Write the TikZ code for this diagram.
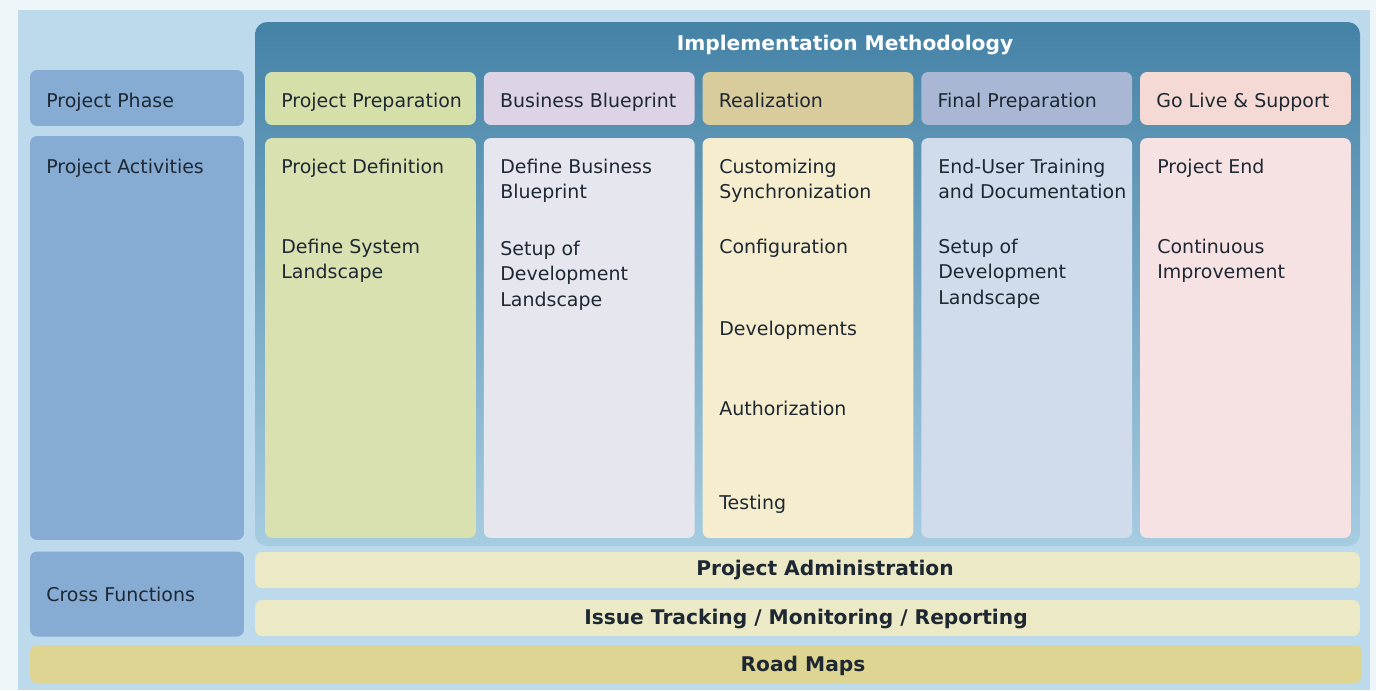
\documentclass[tikz,border=0pt]{standalone}
\usepackage{fontspec}
\setmainfont{DejaVu Sans}
\usetikzlibrary{positioning}

\definecolor{pagebg}{HTML}{EEF6FA}
\definecolor{outerbg}{HTML}{BCDAEB}
\definecolor{frametop}{HTML}{4482A6}
\definecolor{framebot}{HTML}{A6CCE1}
\definecolor{sidebox}{HTML}{86ACD4}
\definecolor{inkdark}{HTML}{1E2833}
\definecolor{phA}{HTML}{D5DFAA}
\definecolor{phB}{HTML}{DCD3E6}
\definecolor{phC}{HTML}{D8CB9C}
\definecolor{phD}{HTML}{A9B7D5}
\definecolor{phE}{HTML}{F5D9D5}
\definecolor{acA}{HTML}{D8E1AF}
\definecolor{acB}{HTML}{E6E6EE}
\definecolor{acC}{HTML}{F5EDCD}
\definecolor{acD}{HTML}{D0DCEC}
\definecolor{acE}{HTML}{F6E2E2}
\definecolor{crossbar}{HTML}{ECE9C6}
\definecolor{roadbar}{HTML}{DFD592}

\begin{document}
\begin{tikzpicture}[x=0.02cm, y=-0.02cm,
    box/.style = {rounded corners=4pt, inner sep=0pt},
    txt/.style = {inner sep=0pt, anchor=west, text height=1.6ex, text depth=0.45ex,
        text=inkdark, font=\fontsize{10.8}{13}\selectfont},
    bold/.style = {inner sep=0pt, text height=1.6ex, text depth=0.45ex,
        text=inkdark, font=\fontsize{11.5}{13}\bfseries}]
            % Background
            \useasboundingbox (0,0) rectangle (1376,690);
            \fill[pagebg] (0,0) rectangle (1376,690);
            \fill[outerbg] (18,10) rectangle (1370,690);
            \path[box, rounded corners=7pt, top color=frametop, bottom color=framebot]
                (255,22) rectangle (1360,546);
            \node[bold, text=white] (title) at (845,45) {Implementation Methodology};
            % Left column
            \node[box, fill=sidebox, minimum width=4.28cm, minimum height=1.12cm] (phase) at (137,98) {};
            \node[box, fill=sidebox, minimum width=4.28cm, minimum height=8.08cm] (acts) at (137,338) {};
            \node[box, fill=sidebox, minimum width=4.28cm, minimum height=1.70cm] (cross) at (137,594) {};
            \node[txt] at (46,102) {Project Phase};
            \node[txt] at (46,168) {Project Activities};
            \node[txt] at (46,596) {Cross Functions};
            % Phases and activities
            \foreach \i/\t/\cp/\ca in {0/Project Preparation/phA/acA, 1/Business Blueprint/phB/acB,
                    2/Realization/phC/acC, 3/Final Preparation/phD/acD, 4/Go Live \& Support/phE/acE} {
                \pgfmathsetmacro{\cx}{370.5+218.75*\i}
                \pgfmathsetmacro{\tx}{281+218.75*\i}
                \node[box, fill=\cp, minimum width=4.22cm, minimum height=1.06cm] (ph\i) at (\cx,98.5) {};
                \node[box, fill=\ca, minimum width=4.22cm, minimum height=8cm] (act\i) at (\cx,338) {};
                \node[txt] (pht\i) at (\tx,102) {\t};
            }
            % Activity texts
            \foreach \x/\y/\t in {281/168/Project Definition, 281/248/Define System, 281/273/Landscape,
                    500/168/Define Business, 500/193/Blueprint, 500/250/Setup of, 500/275/Development, 500/301/Landscape,
                    719/168/Customizing, 719/193/Synchronization, 719/248/Configuration, 719/330/Developments,
                    719/410/Authorization, 719/504/Testing,
                    938/168/End-User Training, 938/193/and Documentation, 938/248/Setup of, 938/273/Development, 938/299/Landscape,
                    1157/168/Project End, 1157/248/Continuous, 1157/273/Improvement}
                \node[txt] at (\x,\y) {\t};
            % Cross functions
            \node[box, fill=crossbar, minimum width=22.1cm, minimum height=0.72cm] (admin) at (807.5,570) {};
            \node[box, fill=crossbar, minimum width=22.1cm, minimum height=0.72cm] (issue) at (807.5,618) {};
            \node[box, fill=roadbar, minimum width=26.64cm, minimum height=0.76cm] (road) at (696,664) {};
            \node[bold] at (825,570) {Project Administration};
            \node[bold] at (806,619) {Issue Tracking / Monitoring / Reporting};
            \node[bold] at (803,666) {Road Maps};
\end{tikzpicture}
\end{document}
